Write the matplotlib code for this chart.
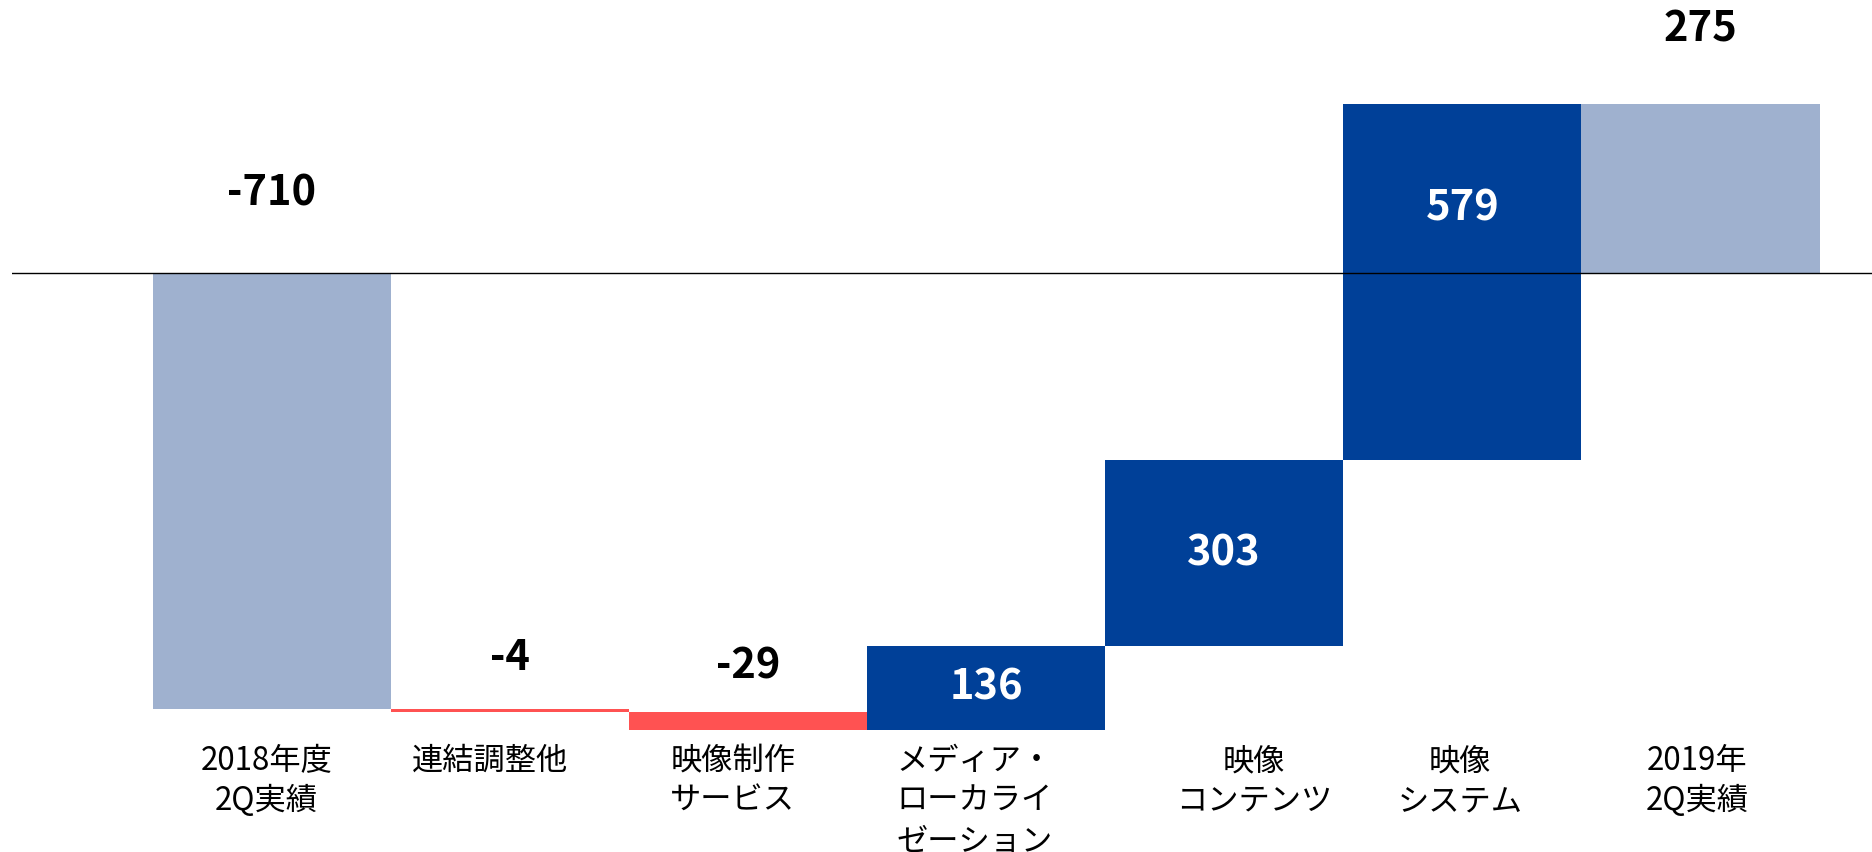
import matplotlib
matplotlib.use("Agg")
import matplotlib.pyplot as plt
import matplotlib.transforms as mtransforms

plt.rcParams['font.family'] = ['Noto Sans CJK JP', 'DejaVu Sans']

# ---- data ----
categories = ["2018年度\n2Q実績", "連結調整他", "映像制作\nサービス", "メディア・\nローカライ\nゼーション",
              "映像\nコンテンツ", "映像\nシステム", "2019年\n2Q実績"]
changes = [-710, -4, -29, 136, 303, 579, 275]
kinds = ["total", "delta", "delta", "delta", "delta", "delta", "total"]
value_labels = ["-710", "-4", "-29", "136", "303", "579", "275"]

# ---- style ----
c_total = "#9FB1CF"
c_neg = "#FF5252"
c_pos = "#004098"
# label vertical offsets in pixels (relative to bar top or bar centre)
label_mode = ["above", "above", "above", "center", "center", "center", "above"]
label_off_px = [80, 51, 45, 0, 0, 74, 75]
cat_dx_px = [-5, -20, -15, None, 30, -2, -3]

fig = plt.figure(figsize=(18.72, 8.52), dpi=100)
ax = fig.add_axes([12 / 1872, 0, 1 - 12 / 1872, 1])
ax.set_xlim(-1.09, 6.72)
ax.set_ylim(-942, 445)
ax.axis("off")

running = 0
bottoms, heights, colors = [], [], []
for v, k in zip(changes, kinds):
    if k == "total":
        bottoms.append(0)
        heights.append(v)
        colors.append(c_total)
        running = v
    else:
        bottoms.append(running)
        heights.append(v)
        colors.append(c_pos if v > 0 else c_neg)
        running += v

x = list(range(len(categories)))
ax.bar(x, heights, bottom=bottoms, width=1.0, color=colors, linewidth=0)
ax.axhline(0, color="black", linewidth=1.0, zorder=3)

for i in x:
    b, h = bottoms[i], heights[i]
    top = max(b, b + h)
    mid = b + h / 2
    if label_mode[i] == "above":
        y0 = top
        col = "black"
    else:
        y0 = mid
        col = "white"
    ax.annotate(value_labels[i], (i, y0), xytext=(0, label_off_px[i] * 0.72),
                textcoords="offset points", ha="center", va="center",
                fontsize=30, fontweight="bold", color=col)

trans = mtransforms.blended_transform_factory(ax.transData, fig.transFigure)
for i, lab in enumerate(categories):
    if cat_dx_px[i] is None:
        # left aligned label
        xl = ax.transData.inverted().transform((896, 0))[0]
        ax.text(xl, 1 - 745 / 852, lab, transform=trans, ha="left", va="top",
                fontsize=22.5, linespacing=1.32, multialignment="left")
    else:
        xc = i + cat_dx_px[i] / 238
        ax.text(xc, 1 - 745 / 852, lab, transform=trans, ha="center", va="top",
                fontsize=22.5, linespacing=1.32, multialignment="center")

fig.savefig("out.png", dpi=100)
